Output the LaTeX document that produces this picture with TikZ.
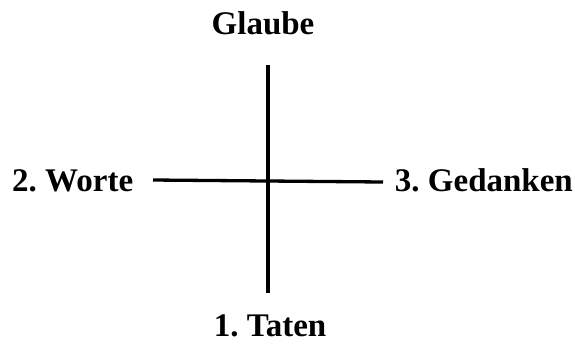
\documentclass[tikz,border=0pt]{standalone}
\usepackage{fontspec}
\setmainfont{Liberation Serif}
\frenchspacing
\begin{document}
\begin{tikzpicture}[x=1bp,y=-1bp,
  lbl/.style={inner sep=0pt,font=\fontsize{33bp}{39bp}\selectfont\bfseries},
  bar/.style={line width=3.3bp}]
\useasboundingbox (0,0) rectangle (575,343);
\node[lbl,anchor=base] (glaube) at (263,34) {Glaube};
\node[lbl,anchor=base] (taten) at (270,336) {1. Taten};
\node[lbl,anchor=base west] (worte) at (12,191) {2. Worte};
\node[lbl,anchor=base east] (gedanken) at (573,191) {3. Gedanken};
\coordinate (vt) at (268,65);
\coordinate (vb) at (268,293);
\coordinate (hl) at (153,180);
\coordinate (hr) at (383,182);
\draw[bar] (vt) -- (vb);
\draw[bar] (hl) -- (hr);
\end{tikzpicture}
\end{document}
